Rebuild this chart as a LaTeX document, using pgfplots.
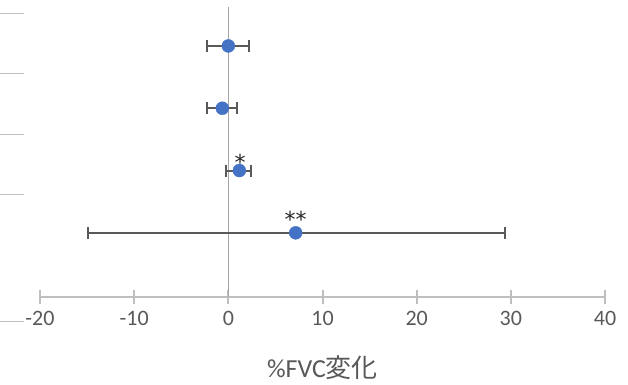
\documentclass[border=0pt]{standalone}
\usepackage{pgfplots}
\pgfplotsset{compat=1.18}
\usepackage{fontspec}
\setmainfont{Carlito}
\newfontfamily\jp{Noto Sans CJK JP}
\newfontfamily\astfont{DejaVu Sans}
\definecolor{dot}{HTML}{4472C4}
\definecolor{barc}{HTML}{595959}
\definecolor{lbl}{HTML}{595959}
\definecolor{axl}{HTML}{BFBFBF}
\definecolor{zl}{HTML}{A6A6A6}
\begin{document}
\begin{tikzpicture}
\useasboundingbox (-40bp,-88bp) rectangle (588bp,297bp);
\begin{axis}[
  at={(0,0)}, anchor=south west,
  scale only axis, width=565bp, height=290bp,
  xmin=-20, xmax=40, ymin=-0.03, ymax=4.625,
  clip=false,
  axis x line=bottom, axis y line=none,
  x axis line style={draw=axl, line width=2bp, -},
  xtick={-20,-10,0,10,20,30,40},
  xticklabels={-20,-10,0,10,20,30,40},
  xtick align=center,
  major tick length=14bp,
  xtick style={draw=axl, line width=2bp},
  xticklabel style={font=\fontsize{22bp}{26bp}\selectfont, text=lbl, anchor=north, yshift=-4bp},
  xlabel={\%FVC{\jp 変化}},
  xlabel style={font=\fontsize{26bp}{30bp}\selectfont, text=lbl, at={(axis description cs:0.5,0)}, anchor=center, yshift=-71bp},
]
\draw[zl, line width=1bp] (axis cs:0,-0.03) -- (axis cs:0,4.625);
\addplot[only marks, mark=*, mark size=6.5bp, mark options={draw=dot, fill=dot},
  error bars/.cd, x dir=both, x explicit,
  error mark=|,
  error bar style={barc, line width=2bp},
  error mark options={barc, line width=2bp, mark size=6bp}]
  table[x=x, y=y, x error plus=ep, x error minus=em] {
  x y ep em
  0.0 4 2.23 2.23
  -0.64 3 1.60 1.59
  1.17 2 1.27 1.45
  7.15 1 22.25 22.0
  };
\node[anchor=base, inner sep=0pt, font=\astfont\fontsize{22bp}{26bp}\selectfont, text=black!85] at (axis cs:1.25,2) {*};
\node[anchor=base, inner sep=0pt, font=\astfont\fontsize{22bp}{26bp}\selectfont, text=black!85, yshift=5bp] at (axis cs:7.15,1) {**};
\end{axis}
\foreach \yy in {283.7,223.7,162.7,102.7,-24.7}
  \draw[axl, line width=1.5bp] (-40bp,\yy bp) -- ++(24bp,0);
\end{tikzpicture}
\end{document}
